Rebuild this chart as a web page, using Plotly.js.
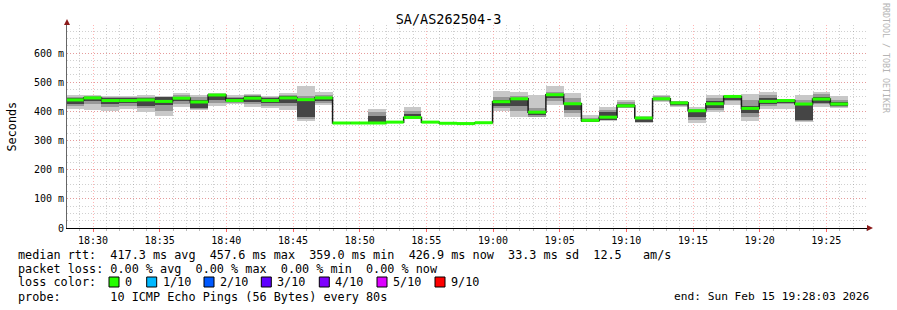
<!DOCTYPE html>
<html><head><meta charset="utf-8">
<script src="https://cdn.plot.ly/plotly-3.0.1.min.js"></script>
<style>html,body{margin:0;padding:0;background:#fff}#chart{width:897px;height:310px}</style>
</head><body><div id="chart"></div>
<script>
// ---- data ----
const titleText = 'SA/AS262504-3';
const firstStepStart = '2026-02-15T18:27:58Z';
const stepSeconds = 80;
const rangeStart = '2026-02-15 18:28:03';
const rangeEnd = '2026-02-15 19:28:03';

const medianMs = [439,446,437,437,439,434,445,432,456,437,445,437,446,440,446,
  360,360,360,363,379,363,359,358,361,
  433,443,397,457,426,369,380,419,377,443,429,402,426,451,410,434,437,425,442,425];
const smokeMin = [409,404,400,407,398,385,416,403,418,425,416,411,404,368,423,
  357,357,358,361,374,361,357,356,359,
  400,379,379,423,382,362,368,411,361,432,416,361,398,423,366,409,409,363,416,411];
const smokeMidLo = [418,425,415,418,410,400,425,408,430,428,425,420,418,375,430,
  358,358,359,362,376,362,358,357,360,
  410,400,382,435,395,364,369,413,363,436,420,372,405,435,380,418,425,368,425,415];
const smokeDarkLo = [425,437,425,428,420,422,435,412,440,432,432,428,430,382,436,
  359,359,360,362,377,362,358,357,360,
  418,417,388,445,405,365,370,415,365,438,423,382,412,440,395,425,430,372,430,420];
const smokeDarkHi = [445,450,445,445,445,448,450,440,458,445,452,445,452,440,450,
  361,361,385,364,392,364,360,359,362,
  438,445,400,460,430,372,398,425,380,447,432,404,435,454,420,445,440,430,450,432];
const smokeMidHi = [450,452,448,448,450,450,455,448,460,450,455,448,456,452,455,
  361,361,398,364,402,364,360,359,362,
  450,452,410,468,445,378,405,432,382,452,435,408,445,456,440,455,442,440,458,440];
const smokeMax = [457,455,451,451,457,451,463,455,462,455,459,451,462,488,466,
  362,362,408,365,415,365,361,360,363,
  471,465,457,487,463,386,414,439,385,457,437,414,455,457,459,466,443,457,466,453];

const yTickVals = [0,100,200,300,400,500,600];
const yTickText = ['0','100 m','200 m','300 m','400 m','500 m','600 m'];
const yMax = 696;

const lossLabels = ['0','1/10','2/10','3/10','4/10','5/10','9/10'];
const lossColors = ['#26ff00','#00b8ff','#0059ff','#5e00ff','#7e00ff','#dd00ff','#ff0000'];
const statsLine = 'median rtt:  417.3 ms avg  457.6 ms max  359.0 ms min  426.9 ms now  33.3 ms sd  12.5   am/s';
const lossLine = 'packet loss: 0.00 % avg  0.00 % max  0.00 % min  0.00 % now';
const probeLine = 'probe:       10 ICMP Echo Pings (56 Bytes) every 80s';
const endLine = 'end: Sun Feb 15 19:28:03 2026';
const creditText = 'RRDTOOL / TOBI OETIKER';

// ---- helpers ----
const t0 = new Date(firstStepStart).getTime();
const stepMs = stepSeconds * 1000;
const fmt = ms => new Date(ms).toISOString().replace('T',' ').replace('Z','');
const centers = medianMs.map((_, i) => fmt(t0 + (i + 0.5) * stepMs));
const starts = medianMs.map((_, i) => fmt(t0 + i * stepMs)).concat([fmt(t0 + medianMs.length * stepMs)]);
const nb = s => s.replace(/ /g, '\u00A0');

// green median segments (one flat segment per step, no vertical joins)
const segX = [], segY = [];
medianMs.forEach((v, i) => {
  segX.push(fmt(t0 + i * stepMs), fmt(t0 + (i + 1) * stepMs), null);
  segY.push(v, v, null);
});

// plot area in pixels: x 67..867, y 25..228
const PL = 67, PR = 867, PT = 25, PB = 228;
const px = x => (x - PL) / (PR - PL);
const py = y => (PB - y) / (PB - PT);

function band(lo, hi, color) {
  return {type:'bar', x: centers, base: lo, y: hi.map((h, i) => h - lo[i]),
    width: stepMs, marker:{color: color, line:{width:0}}, hoverinfo:'skip', showlegend:false};
}

const traces = [
  band(smokeMin, smokeMax, '#c8c8c8'),
  band(smokeMidLo, smokeMidHi, '#989898'),
  band(smokeDarkLo, smokeDarkHi, '#454545'),
  {type:'scatter', mode:'lines', x: starts, y: medianMs.concat([medianMs[medianMs.length-1]]),
   line:{shape:'hv', color:'#1a1a1a', width:1.5}, hoverinfo:'skip', showlegend:false},
  {type:'scatter', mode:'lines', x: segX, y: segY, connectgaps:false,
   line:{color: lossColors[0], width:3}, hoverinfo:'skip', showlegend:false}
];

const mono = 'DejaVu Sans Mono';
const annotations = [];
const textAnn = (text, x, y, size, anchor, extra) => Object.assign({
  text: nb(text), xref:'paper', yref:'paper', x: px(x), y: py(y), xanchor: anchor || 'left',
  yanchor:'middle', showarrow:false, font:{family: mono, size: size, color:'#000'}
}, extra || {});
annotations.push(textAnn(statsLine, 16, 254.5, 11.8));
annotations.push(textAnn(lossLine, 16, 268.5, 11.8));
annotations.push(textAnn('loss color:', 16, 282, 11.8));
annotations.push(textAnn(probeLine, 16, 296.5, 11.8));
annotations.push(textAnn(endLine, 872, 296.5, 11.2, 'right'));
annotations.push(textAnn('Seconds', 11, 126.5, 11.8, 'center', {textangle:-90}));
annotations.push(textAnn(creditText, 886, 58, 8.3, 'center', {textangle:90, font:{family: mono, size:8.3, color:'#b4b4b4'}}));

const squareX = [109, 146.7, 204, 261.3, 319.3, 377, 435];
const shapes = [];
lossLabels.forEach((lab, i) => {
  shapes.push({type:'rect', xref:'paper', yref:'paper', x0: px(squareX[i]), x1: px(squareX[i] + 10),
    y0: py(277), y1: py(287), fillcolor: lossColors[i], line:{color:'#000', width:1}});
  annotations.push(textAnn(lab, squareX[i] + 14, 282, 11.8));
});
// axis arrows
shapes.push({type:'path', xref:'paper', yref:'paper', xsizemode:'pixel', ysizemode:'pixel',
  xanchor:1, yanchor:0, path:'M 0 -3 L 6 0 L 0 3 Z', fillcolor:'#8b1a1a', line:{width:0}});
shapes.push({type:'path', xref:'paper', yref:'paper', xsizemode:'pixel', ysizemode:'pixel',
  xanchor:0, yanchor:1, path:'M -3 0 L 3 0 L 0 6 Z', fillcolor:'#8b1a1a', line:{width:0}});

const layout = {
  width: 897, height: 310,
  margin: {l: PL, r: 897 - PR, t: PT, b: 310 - PB},
  paper_bgcolor:'#fff', plot_bgcolor:'#fff',
  barmode:'overlay', bargap:0,
  showlegend:false,
  title: {text: titleText, x:0.5, xref:'container', xanchor:'center', y: 1 - 19/310, yref:'container', yanchor:'middle',
    font:{family: mono, size:13.5, color:'#000'}},
  xaxis: {type:'date', range:[rangeStart, rangeEnd], tick0:'2026-02-15 18:30:00', dtick: 300000,
    tickformat:'%H:%M', showgrid:true, gridcolor:'rgba(255,90,90,0.45)', griddash:'1px,2px', gridwidth:1,
    minor:{dtick:60000, tick0:'2026-02-15 18:30:00', showgrid:true, gridcolor:'rgba(120,120,120,0.35)', griddash:'1px,2px',
      ticks:'outside', ticklen:2, tickcolor:'#bbb'},
    ticks:'outside', ticklen:3, tickcolor:'rgba(255,0,0,0.6)',
    showline:true, linecolor:'#000', linewidth:1, zeroline:false,
    tickfont:{family: mono, size:10, color:'#000'}, fixedrange:true},
  yaxis: {range:[0, yMax], tickvals: yTickVals, ticktext: yTickText,
    showgrid:true, gridcolor:'rgba(255,90,90,0.45)', griddash:'1px,2px', gridwidth:1,
    minor:{dtick:25, showgrid:true, gridcolor:'rgba(120,120,120,0.35)', griddash:'1px,2px'},
    showline:true, linecolor:'#666', linewidth:1, zeroline:false, ticks:'',
    tickfont:{family: mono, size:10, color:'#000'}, fixedrange:true},
  annotations: annotations,
  shapes: shapes
};

Plotly.newPlot('chart', traces, layout, {staticPlot:true, displayModeBar:false});
</script>
</body></html>
